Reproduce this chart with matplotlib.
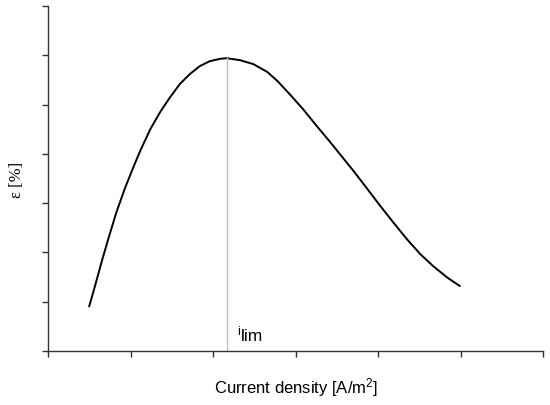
import matplotlib.pyplot as plt
import numpy as np

plt.rcParams['font.family'] = ['Liberation Sans', 'DejaVu Sans']

# curve (x and y in tick units)
current = [0.50, 0.57, 0.65, 0.73, 0.83, 0.93, 1.03, 1.12, 1.24, 1.36,
           1.48, 1.60, 1.72, 1.84, 1.96, 2.09, 2.17, 2.33, 2.49, 2.66,
           2.78, 2.93, 3.09, 3.26, 3.42, 3.55, 3.70, 3.87, 4.02, 4.18,
           4.35, 4.51, 4.67, 4.84, 4.99]
eps = [0.91, 1.32, 1.81, 2.27, 2.82, 3.29, 3.71, 4.07, 4.50, 4.85,
       5.15, 5.42, 5.62, 5.78, 5.88, 5.93, 5.94, 5.90, 5.82, 5.66,
       5.48, 5.21, 4.91, 4.56, 4.24, 3.97, 3.66, 3.29, 2.96, 2.62,
       2.27, 1.97, 1.72, 1.49, 1.32]
i_lim = 2.17
eps_max = 5.94

fig = plt.figure(figsize=(5.5, 4.06), dpi=100)
ax = fig.add_axes([48/550, 1-352/406, 495/550, 345/406])

ax.plot(current, eps, color='black', linewidth=1.4, solid_joinstyle='round')
ax.plot([i_lim, i_lim], [0, eps_max], color='#c0c0c0', linewidth=1)
# label "i" with "lim" below-right
ax.text(2.29, 0.345, 'i', fontsize=9, ha='left', va='baseline')
ax.text(2.335, 0.225, 'lim', fontsize=12.5, ha='left', va='baseline')

ax.set_xlim(0, 6)
ax.set_ylim(0, 7)
ax.set_xticks(np.arange(0, 7))
ax.set_yticks(np.arange(0, 8))
ax.set_xticklabels([])
ax.set_yticklabels([])
ax.tick_params(direction='out', length=4, width=1, colors='#333333')
for s in ['top', 'right']:
    ax.spines[s].set_visible(False)
for s in ['left', 'bottom']:
    ax.spines[s].set_color('#333333')
    ax.spines[s].set_linewidth(1)

ax.set_xlabel('Current density [A/m$\\mathregular{^2}$]', fontsize=12, labelpad=10)
ax.set_ylabel('ε [%]', fontsize=12, labelpad=9, family='Liberation Serif')

plt.savefig('out.png', dpi=100)
